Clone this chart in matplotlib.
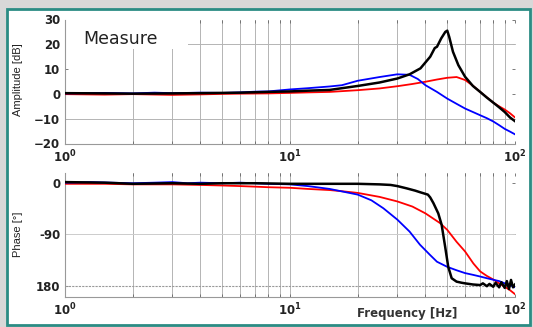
import numpy as np
import matplotlib.pyplot as plt
from matplotlib.patches import Rectangle
from matplotlib.ticker import NullFormatter

### data
# amplitude [dB]
f_amp_black = [1, 1.5, 2, 3, 4, 5, 6, 8, 10, 12, 15, 20, 25, 30, 34, 38, 42, 44, 45, 47, 49, 50, 51, 53, 56, 60, 65, 70, 75, 80, 85, 90, 95, 100]
amp_black = [0.3, 0.2, 0.1, 0.2, 0.3, 0.4, 0.5, 0.8, 1.0, 1.3, 1.6, 3.2, 4.6, 6.2, 7.9, 10.3, 15.0, 18.5, 19.0, 22.4, 25.0, 25.5, 23.0, 17.0, 11.6, 6.9, 3.2, 0.8, -1.5, -3.5, -5.4, -7.3, -9.5, -11.0]

f_amp_red = [1, 1.5, 2, 3, 4, 5, 6, 8, 10, 12, 15, 20, 25, 30, 35, 40, 45, 50, 55, 60, 65, 70, 75, 80, 85, 90, 95, 100]
amp_red = [-0.1, -0.3, -0.1, -0.4, -0.2, 0.0, 0.1, 0.2, 0.4, 0.6, 0.8, 1.5, 2.2, 3.1, 4.0, 4.9, 5.8, 6.5, 6.8, 5.6, 3.3, 0.8, -1.4, -3.5, -5.0, -6.3, -7.8, -9.5]

f_amp_blue = [1, 1.5, 2, 2.5, 3, 4, 5, 6, 7, 8, 10, 12, 15, 17, 20, 25, 30, 34, 37, 40, 45, 50, 55, 60, 65, 70, 75, 80, 85, 90, 95, 100]
amp_blue = [0.2, 0.4, 0.2, 0.5, 0.3, 0.5, 0.4, 0.6, 0.9, 1.0, 1.8, 2.3, 3.0, 3.5, 5.3, 6.8, 7.9, 7.7, 6.0, 3.5, 0.8, -1.9, -4.0, -5.9, -7.3, -8.6, -9.8, -11.1, -12.6, -14.1, -15.2, -16.3]

# phase [deg]
f_ph_black = [1, 1.5, 2, 3, 4, 5, 7, 10, 15, 20, 25, 28, 30, 33, 36, 38, 41, 42, 43.4, 45.6, 47.2, 48.9, 50.5, 52.3, 55, 58, 60, 65, 70, 72, 75, 77, 80, 82, 85, 87, 90, 92, 94, 96, 98, 100]
ph_black = [2, 1, -1, 0, -1, 0, 0, -1, -1, -1, -2, -3, -5, -9, -13, -16, -20, -25, -35, -53, -73, -111, -147, -167, -173, -175, -176, -178, -179, -176, -181, -177, -182, -175, -183, -174, -184, -172, -186, -170, -183, -178]

f_ph_red = [1, 1.5, 2, 3, 4, 5, 6, 7, 8, 10, 12, 15, 17, 20, 25, 30, 35, 40, 46.4, 50, 55, 60, 65.3, 70, 75, 80.7, 85, 90, 95, 100]
ph_red = [-1, -1, -2, -2, -3, -4, -5, -6, -7, -8, -10, -12, -14, -17, -24, -32, -41, -53, -70, -82, -103, -120, -141, -155, -163, -170, -176, -182, -188, -195]

f_ph_blue = [1, 1.3, 1.6, 2, 2.5, 3, 3.5, 4, 5, 6, 7, 8, 10, 12, 15, 20, 23, 26, 30, 34, 37.8, 41.9, 45, 50, 55, 60, 65, 70, 75, 80.7, 85, 90, 95, 100]
ph_blue = [1, 2, 1, 0, 1, 2, 0, 1, 0, 1, 0, -1, -2, -5, -10, -20, -30, -44, -64, -85, -108, -126, -138, -147, -153, -158, -161, -164, -167, -170, -172, -176, -179, -183]

amp_ticks = [30, 20, 10, 0, -10, -20]
ph_ticks = [0, -90, -180]
ph_ticklabels = ['0', '-90', '180']

W, H = 533, 327
fig = plt.figure(figsize=(W/100, H/100), dpi=100, facecolor='#d8d8d8')

# white panel with teal frame (behind the axes)
fig.patches.append(Rectangle((7/W, 2/H), 523/W, 316/H, transform=fig.transFigure,
                             facecolor='white', edgecolor='#2b8c84', linewidth=2,
                             zorder=-10))

ax1 = fig.add_axes([65/W, 1-143.5/H, 450/W, 124/H])
ax2 = fig.add_axes([65/W, 1-297/H, 450/W, 124/H])

def style(ax):
    ax.set_xscale('log')
    ax.set_xlim(1, 100)
    ax.set_facecolor('none')
    ax.set_axisbelow(True)
    ax.grid(True, axis='x', which='both', color='#b4b4b4', linewidth=0.7)
    for s in ['top', 'right']:
        ax.spines[s].set_visible(False)
    for s in ['left', 'bottom']:
        ax.spines[s].set_color('#999999')
        ax.spines[s].set_linewidth(0.8)
    ax.tick_params(which='both', direction='in', top=True, right=True,
                   length=2, width=0.6, color='#666666', labelsize=8.5,
                   labelcolor='#222222')
    ax.xaxis.set_minor_formatter(NullFormatter())

### amplitude
ax1.set_ylim(-20, 30)
ax1.set_yticks(amp_ticks)
style(ax1)
ax1.axhline(20, color='#b4b4b4', linewidth=0.7, zorder=0.6)
ax1.axhline(-10, color='#b4b4b4', linewidth=0.7, zorder=0.6)
ax1.add_patch(Rectangle((0.003, 0.76), 0.27, 0.235, transform=ax1.transAxes,
                        facecolor='white', edgecolor='none', zorder=1))
ax1.text(0.04, 0.845, 'Measure', transform=ax1.transAxes, fontsize=12.5,
         va='center', ha='left', color='#222222', zorder=3)
ax1.plot(f_amp_red, amp_red, color='red', linewidth=1.3, zorder=3)
ax1.plot(f_amp_blue, amp_blue, color='blue', linewidth=1.3, zorder=3)
ax1.plot(f_amp_black, amp_black, color='black', linewidth=1.8, zorder=4)

### phase
ax2.set_ylim(-200, 18)
ax2.set_yticks(ph_ticks)
ax2.set_yticklabels(ph_ticklabels)
style(ax2)
ax2.axhline(-90, color='#cccccc', linewidth=0.7, zorder=0.6)
ax2.axhline(-180, color='#999999', linewidth=0.8, linestyle=(0, (2, 1)), zorder=0.6)
ax2.plot(f_ph_red, ph_red, color='red', linewidth=1.3, zorder=3)
ax2.plot(f_ph_blue, ph_blue, color='blue', linewidth=1.3, zorder=3)
ax2.plot(f_ph_black, ph_black, color='black', linewidth=1.8, zorder=4)

for ax in (ax1, ax2):
    for lab in ax.get_xticklabels() + ax.get_yticklabels():
        lab.set_fontweight('bold')

fig.text(18/W, 1-80/H, 'Amplitude [dB]', rotation=90, ha='center', va='center',
         fontsize=8, family='Liberation Sans', color='#222222')
fig.text(18/W, 1-234/H, 'Phase [°]', rotation=90, ha='center', va='center',
         fontsize=8, family='Liberation Sans', color='#222222')
fig.text(407/W, 1-313/H, 'Frequency [Hz]', ha='center', va='center',
         fontsize=8.5, fontweight='bold', color='#333333')

fig.savefig('out.png', dpi=100, facecolor=fig.get_facecolor())
